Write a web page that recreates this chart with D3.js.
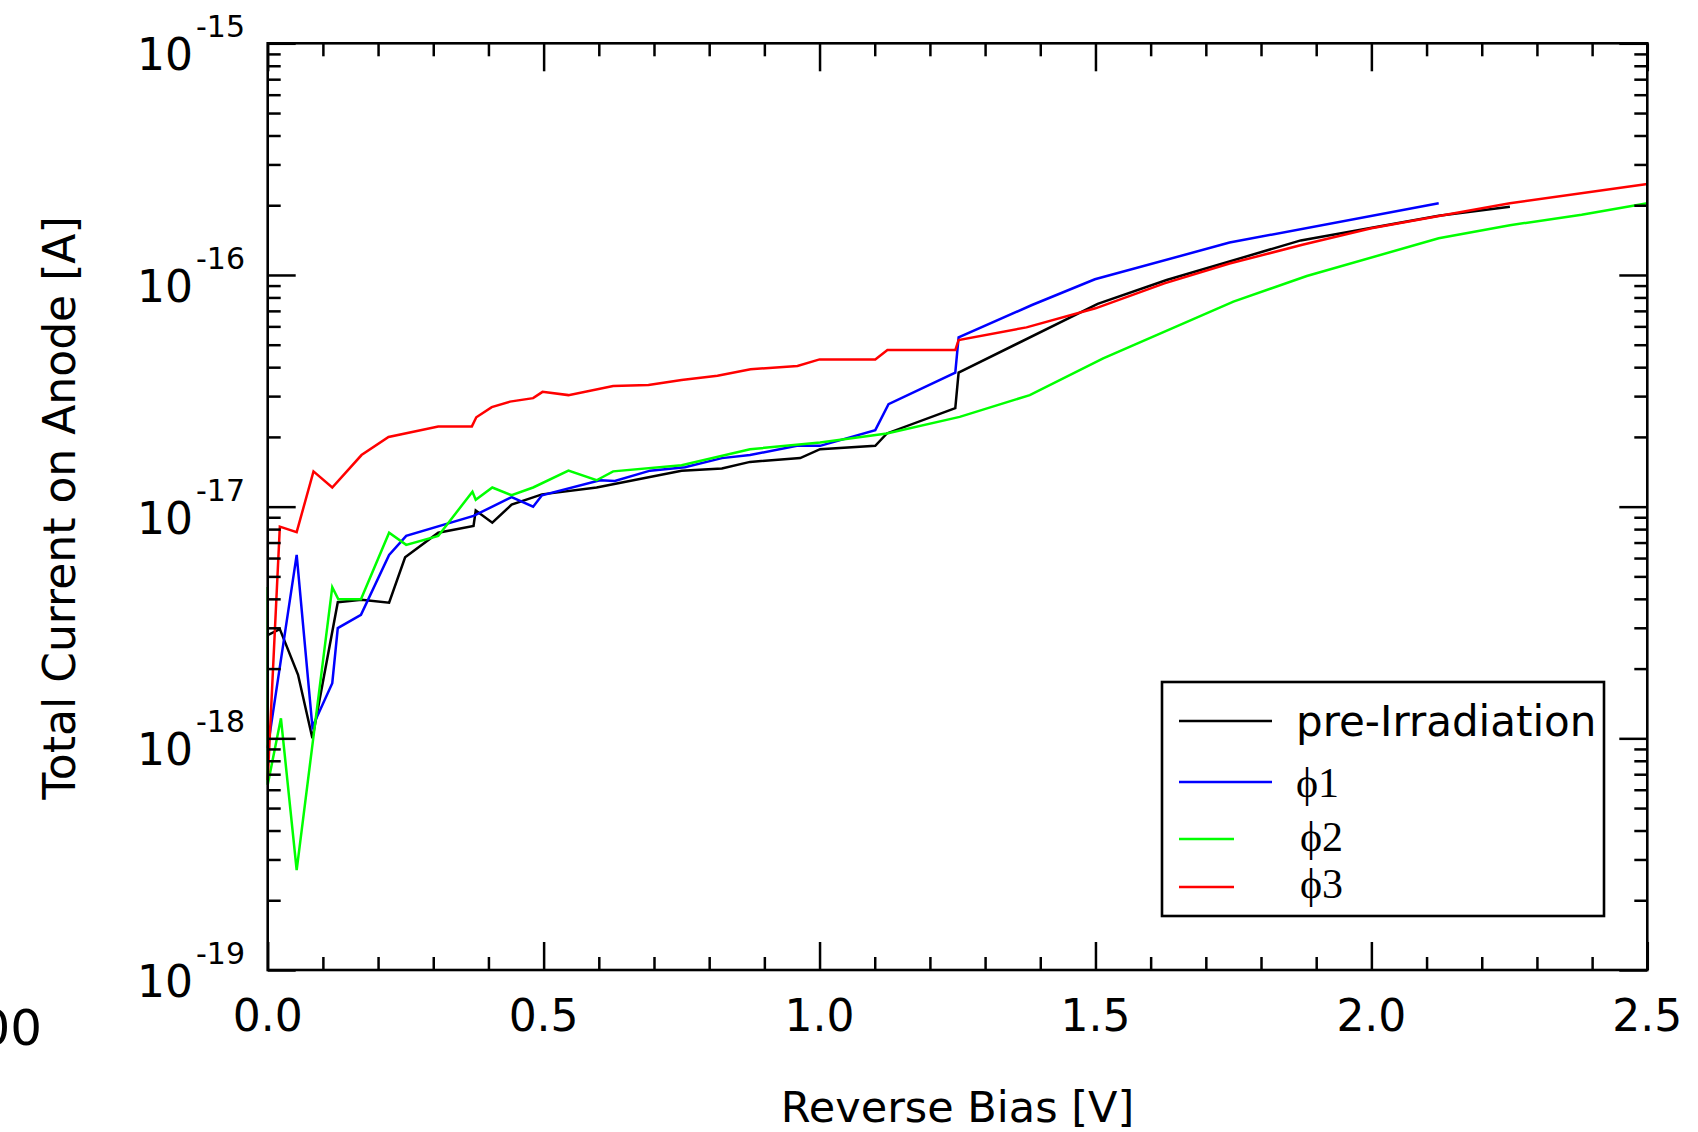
<!DOCTYPE html>
<html>
<head>
<meta charset="utf-8">
<script src="https://cdn.jsdelivr.net/npm/d3@7"></script>
<style>
  html, body { margin: 0; padding: 0; background: #fff; }
  svg { display: block; }
</style>
</head>
<body>
<svg id="chart" width="1698" height="1132"></svg>
<script>
// Reverse bias (V) and total anode current (A) for each irradiation step
const preV  = [0, 0.022, 0.055, 0.081, 0.127, 0.170, 0.220, 0.249, 0.309, 0.373, 0.377, 0.407, 0.442, 0.497, 0.596, 0.750, 0.823, 0.874, 0.965, 1.001, 1.101, 1.122, 1.246, 1.252, 1.504, 1.629, 1.872, 2.122, 2.251];
const preI  = [2.79e-18, 2.96e-18, 1.88e-18, 1.0e-18, 3.87e-18, 3.96e-18, 3.85e-18, 6.05e-18, 7.72e-18, 8.26e-18, 9.62e-18, 8.53e-18, 1.02e-17, 1.13e-17, 1.21e-17, 1.43e-17, 1.46e-17, 1.56e-17, 1.62e-17, 1.77e-17, 1.83e-17, 2.07e-17, 2.66e-17, 3.79e-17, 7.50e-17, 9.51e-17, 1.41e-16, 1.80e-16, 1.97e-16];

const phi1V = [0, 0.0525, 0.081, 0.117, 0.127, 0.169, 0.220, 0.251, 0.373, 0.442, 0.481, 0.497, 0.602, 0.629, 0.693, 0.756, 0.823, 0.874, 0.959, 1.001, 1.101, 1.125, 1.246, 1.252, 1.385, 1.499, 1.743, 2.122];
const phi1I = [9.1e-19, 6.19e-18, 1.12e-18, 1.73e-18, 2.99e-18, 3.41e-18, 6.19e-18, 7.48e-18, 9.12e-18, 1.10e-17, 1.0e-17, 1.12e-17, 1.30e-17, 1.29e-17, 1.43e-17, 1.48e-17, 1.62e-17, 1.67e-17, 1.83e-17, 1.83e-17, 2.14e-17, 2.77e-17, 3.79e-17, 5.38e-17, 7.42e-17, 9.58e-17, 1.38e-16, 2.04e-16];

const phi2V = [0, 0, 0.024, 0.0525, 0.117, 0.128, 0.169, 0.220, 0.251, 0.309, 0.371, 0.377, 0.407, 0.442, 0.481, 0.545, 0.596, 0.626, 0.750, 0.874, 1.001, 1.122, 1.254, 1.381, 1.514, 1.750, 1.883, 2.122, 2.251, 2.381, 2.5];
const phi2I = [4.5e-18, 6.3e-19, 1.22e-18, 2.7e-19, 4.49e-18, 3.98e-18, 3.98e-18, 7.72e-18, 6.84e-18, 7.47e-18, 1.16e-17, 1.07e-17, 1.21e-17, 1.12e-17, 1.21e-17, 1.43e-17, 1.30e-17, 1.42e-17, 1.51e-17, 1.77e-17, 1.89e-17, 2.07e-17, 2.44e-17, 3.03e-17, 4.37e-17, 7.67e-17, 9.9e-17, 1.44e-16, 1.64e-16, 1.82e-16, 2.04e-16];

const phi3V = [0, 0.022, 0.0525, 0.083, 0.117, 0.170, 0.219, 0.309, 0.370, 0.378, 0.406, 0.439, 0.481, 0.498, 0.545, 0.626, 0.690, 0.750, 0.815, 0.875, 0.960, 1.0, 1.101, 1.123, 1.246, 1.252, 1.375, 1.5, 1.625, 1.743, 1.875, 2.0, 2.125, 2.251, 2.5];
const phi3I = [6.6e-19, 8.2e-18, 7.76e-18, 1.42e-17, 1.21e-17, 1.67e-17, 2.0e-17, 2.22e-17, 2.22e-17, 2.43e-17, 2.69e-17, 2.84e-17, 2.94e-17, 3.13e-17, 3.03e-17, 3.32e-17, 3.35e-17, 3.52e-17, 3.67e-17, 3.92e-17, 4.05e-17, 4.32e-17, 4.32e-17, 4.74e-17, 4.74e-17, 5.24e-17, 5.94e-17, 7.18e-17, 9.2e-17, 1.12e-16, 1.35e-16, 1.59e-16, 1.80e-16, 2.04e-16, 2.47e-16];

const seriesNames  = ["pre-Irradiation", "\u03D51", "\u03D52", "\u03D53"];
const xTickValues  = [0, 0.5, 1.0, 1.5, 2.0, 2.5];
const xTickLabels  = ["0.0", "0.5", "1.0", "1.5", "2.0", "2.5"];
const yDecades     = [-19, -18, -17, -16, -15];

// Styling
const seriesColors = ["#000000", "#0000ff", "#00ff00", "#ff0000"];
const sansFont  = "'DejaVu Sans', Verdana, sans-serif";
const serifFont = "'Liberation Serif', 'Times New Roman', serif";

const series = [
  { name: seriesNames[0], v: preV,  i: preI,  color: seriesColors[0] },
  { name: seriesNames[1], v: phi1V, i: phi1I, color: seriesColors[1] },
  { name: seriesNames[2], v: phi2V, i: phi2I, color: seriesColors[2] },
  { name: seriesNames[3], v: phi3V, i: phi3I, color: seriesColors[3] }
];

const plot = { left: 267.7, right: 1647.3, top: 43.3, bottom: 970 };
const svg = d3.select("#chart");

const x = d3.scaleLinear().domain([0, 2.5]).range([plot.left, plot.right]);
const y = d3.scaleLog().domain([1e-19, 1e-15]).range([plot.bottom, plot.top]);

// Data curves
const line = d3.line().x(d => x(d[0])).y(d => y(d[1]));
svg.append("g").selectAll("path")
  .data(series)
  .join("path")
  .attr("d", s => line(s.v.map((v, k) => [v, s.i[k]])))
  .attr("fill", "none")
  .attr("stroke", s => s.color)
  .attr("stroke-width", 2.5)
  .attr("stroke-linejoin", "miter");

// Tick positions
const xMinor = d3.range(1, 25).map(k => k / 10).filter(v => Math.abs(v * 2 - Math.round(v * 2)) > 1e-6);
const yMajor = yDecades.map(d => Math.pow(10, d));
const yMinor = [];
yDecades.slice(0, -1).forEach(d => { for (let m = 2; m <= 9; m++) yMinor.push(m * Math.pow(10, d)); });

const majorLen = 28, minorLen = 13;

function drawAxis(gen, transform, values, len) {
  const g = svg.append("g").attr("transform", transform)
    .call(gen.tickValues(values).tickSizeInner(-len).tickSizeOuter(0).tickFormat(""));
  g.select(".domain").remove();
  g.selectAll(".tick line").attr("stroke", "#000").attr("stroke-width", 2.5);
  g.selectAll(".tick text").remove();
  return g;
}

drawAxis(d3.axisBottom(x), `translate(0,${plot.bottom})`, xTickValues, majorLen);
drawAxis(d3.axisBottom(x), `translate(0,${plot.bottom})`, xMinor, minorLen);
drawAxis(d3.axisTop(x), `translate(0,${plot.top})`, xTickValues, majorLen);
drawAxis(d3.axisTop(x), `translate(0,${plot.top})`, xMinor, minorLen);
drawAxis(d3.axisLeft(y), `translate(${plot.left},0)`, yMajor, majorLen);
drawAxis(d3.axisLeft(y), `translate(${plot.left},0)`, yMinor, minorLen);
drawAxis(d3.axisRight(y), `translate(${plot.right},0)`, yMajor, majorLen);
drawAxis(d3.axisRight(y), `translate(${plot.right},0)`, yMinor, minorLen);

// Frame
svg.append("rect")
  .attr("x", plot.left).attr("y", plot.top)
  .attr("width", plot.right - plot.left).attr("height", plot.bottom - plot.top)
  .attr("fill", "none").attr("stroke", "#000").attr("stroke-width", 2.6);

// X tick labels
svg.append("g").selectAll("text")
  .data(xTickValues)
  .join("text")
  .attr("x", d => x(d))
  .attr("y", plot.bottom + 61)
  .attr("text-anchor", "middle")
  .attr("font-family", sansFont)
  .attr("font-size", 44)
  .attr("fill", "#000")
  .text((d, k) => xTickLabels[k]);

// Y tick labels as powers of ten
const yLab = svg.append("g").selectAll("text")
  .data(yDecades)
  .join("text")
  .attr("x", 245)
  .attr("y", d => y(Math.pow(10, d)) + 27)
  .attr("text-anchor", "end")
  .attr("font-family", sansFont)
  .attr("fill", "#000");
yLab.append("tspan").attr("font-size", 44).text("10");
yLab.append("tspan").attr("font-size", 30).attr("dx", 3).attr("dy", -33).text(d => String(d));

// Axis titles
svg.append("text")
  .attr("x", (plot.left + plot.right) / 2)
  .attr("y", 1122)
  .attr("text-anchor", "middle")
  .attr("font-family", sansFont)
  .attr("font-size", 43)
  .attr("fill", "#000")
  .text("Reverse Bias [V]");

svg.append("text")
  .attr("transform", "translate(75,508) rotate(-90)")
  .attr("text-anchor", "middle")
  .attr("font-family", sansFont)
  .attr("font-size", 44)
  .attr("fill", "#000")
  .text("Total Current on Anode [A]");

// Fragment of a neighbouring panel's label at the left edge
svg.append("text")
  .attr("x", 42).attr("y", 1045)
  .attr("text-anchor", "end")
  .attr("font-family", sansFont)
  .attr("font-size", 50)
  .attr("fill", "#000")
  .text("00");

// Legend
const legend = svg.append("g");
legend.append("rect")
  .attr("x", 1162).attr("y", 682).attr("width", 442).attr("height", 234)
  .attr("fill", "#fff").attr("stroke", "#000").attr("stroke-width", 2.6);

const legendRows = [
  { y: 721, x2: 1272, tx: 1296, ty: 736, font: sansFont },
  { y: 782, x2: 1272, tx: 1296, ty: 797, font: serifFont },
  { y: 839, x2: 1234, tx: 1300, ty: 851, font: serifFont },
  { y: 887, x2: 1234, tx: 1300, ty: 898, font: serifFont }
];
legend.selectAll("line")
  .data(series)
  .join("line")
  .attr("x1", 1179)
  .attr("x2", (s, k) => legendRows[k].x2)
  .attr("y1", (s, k) => legendRows[k].y)
  .attr("y2", (s, k) => legendRows[k].y)
  .attr("stroke", s => s.color)
  .attr("stroke-width", 2.5);
legend.selectAll("text")
  .data(series)
  .join("text")
  .attr("x", (s, k) => legendRows[k].tx)
  .attr("y", (s, k) => legendRows[k].ty)
  .attr("font-family", (s, k) => legendRows[k].font)
  .attr("font-size", 42)
  .attr("fill", "#000")
  .text(s => s.name);
</script>
</body>
</html>
